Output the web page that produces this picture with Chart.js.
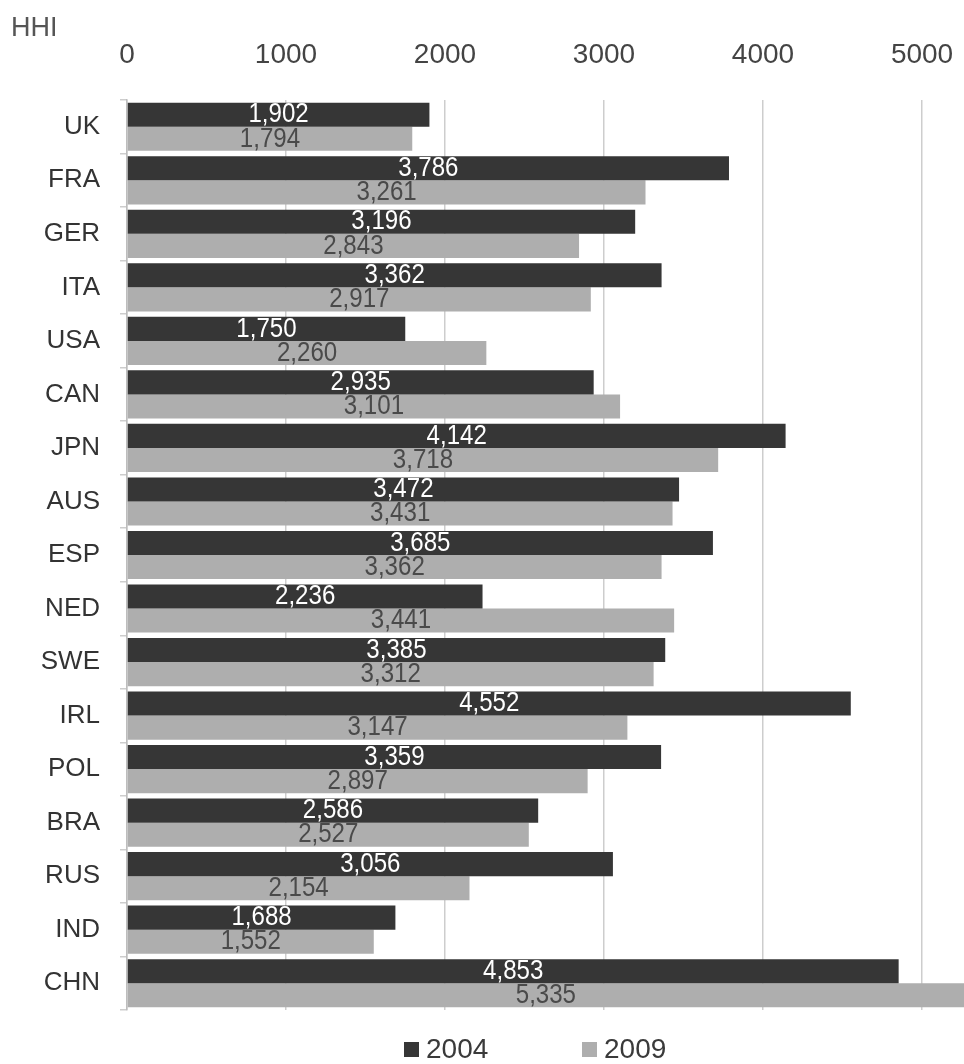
<!DOCTYPE html>
<html>
<head>
<meta charset="utf-8">
<script src="https://cdn.jsdelivr.net/npm/chart.js@4/dist/chart.umd.min.js"></script>
<style>
  html, body { margin: 0; padding: 0; background: #ffffff; overflow: hidden; }
  #hhi { display: block; }
</style>
</head>
<body>
<canvas id="hhi" width="964" height="1064"></canvas>
<script>
// Countries, top to bottom
const countries = ['UK', 'FRA', 'GER', 'ITA', 'USA', 'CAN', 'JPN', 'AUS', 'ESP',
                   'NED', 'SWE', 'IRL', 'POL', 'BRA', 'RUS', 'IND', 'CHN'];
// Herfindahl-Hirschman index by year
const hhi2004 = [1902, 3786, 3196, 3362, 1750, 2935, 4142, 3472, 3685,
                 2236, 3385, 4552, 3359, 2586, 3056, 1688, 4853];
const hhi2009 = [1794, 3261, 2843, 2917, 2260, 3101, 3718, 3431, 3362,
                 3441, 3312, 3147, 2897, 2527, 2154, 1552, 5335];
const seriesNames = ['2004', '2009'];
const axisTicks = [0, 1000, 2000, 3000, 4000, 5000];
const axisTitle = 'HHI';

const DARK = '#363636';
const LIGHT = '#aeaeae';
const GRID = '#cdcdcd';
const SANS = '"Liberation Sans", Arial, sans-serif';

// Value labels centred in the visible part of each bar, in a condensed face
const barLabels = {
  id: 'barLabels',
  afterDatasetsDraw(chart) {
    const ctx = chart.ctx;
    const area = chart.chartArea;
    chart.data.datasets.forEach((ds, di) => {
      const meta = chart.getDatasetMeta(di);
      meta.data.forEach((bar, i) => {
        const right = Math.min(bar.x, area.right);
        const cx = (bar.base + right) / 2;
        ctx.save();
        ctx.translate(cx, bar.y);
        ctx.scale(0.86, 1);
        ctx.font = '28px ' + SANS;
        ctx.textAlign = 'center';
        ctx.textBaseline = 'middle';
        ctx.fillStyle = di === 0 ? '#ffffff' : '#4a4a4a';
        ctx.fillText(ds.data[i].toLocaleString('en-US'), 0, 0);
        ctx.restore();
      });
    });
  }
};

// Axis caption and legend
const decorations = {
  id: 'decorations',
  afterDraw(chart) {
    const ctx = chart.ctx;
    ctx.save();
    ctx.font = '27px ' + SANS;
    ctx.fillStyle = '#555555';
    ctx.textAlign = 'left';
    ctx.textBaseline = 'alphabetic';
    ctx.fillText(axisTitle, 11, 36);

    const items = [
      { x: 404, color: DARK, text: chart.data.datasets[0].label },
      { x: 582, color: LIGHT, text: chart.data.datasets[1].label }
    ];
    ctx.font = '28px ' + SANS;
    items.forEach(it => {
      ctx.fillStyle = it.color;
      ctx.fillRect(it.x, 1042, 15, 15);
      ctx.fillStyle = '#3a3a3a';
      ctx.fillText(it.text, it.x + 22, 1058);
    });
    ctx.restore();
  }
};

new Chart(document.getElementById('hhi'), {
  type: 'bar',
  data: {
    labels: countries,
    datasets: [
      { label: seriesNames[0], data: hhi2004, backgroundColor: DARK, borderWidth: 0,
        categoryPercentage: 0.9, barPercentage: 1.0, clip: 0 },
      { label: seriesNames[1], data: hhi2009, backgroundColor: LIGHT, borderWidth: 0,
        categoryPercentage: 0.9, barPercentage: 1.0, clip: 0 }
    ]
  },
  options: {
    indexAxis: 'y',
    responsive: false,
    animation: false,
    layout: { padding: { top: 0, right: 0, bottom: 54, left: 0 } },
    plugins: {
      legend: { display: false },
      tooltip: { enabled: false }
    },
    scales: {
      x: {
        position: 'top',
        min: 0,
        max: 5264,
        afterFit(scale) {
          scale.height = 100;
          scale.paddingLeft = 0;
          scale.paddingRight = 0;
        },
        afterBuildTicks(scale) { scale.ticks = axisTicks.map(v => ({ value: v })); },
        ticks: {
          includeBounds: false,
          padding: 28,
          color: '#444444',
          font: { family: SANS, size: 28 },
          maxRotation: 0,
          callback: v => String(v)
        },
        grid: { color: GRID, lineWidth: 1.5, drawTicks: false },
        border: { display: false }
      },
      y: {
        position: 'left',
        afterFit(scale) { scale.width = 127; },
        ticks: {
          padding: 20,
          color: '#333333',
          font: { family: SANS, size: 26 }
        },
        grid: { offset: true, drawOnChartArea: false, drawTicks: true, tickLength: 7,
                color: GRID, lineWidth: 1.5 },
        border: { display: true, color: '#bdbdbd', width: 1.5 }
      }
    }
  },
  plugins: [barLabels, decorations]
});
</script>
</body>
</html>
